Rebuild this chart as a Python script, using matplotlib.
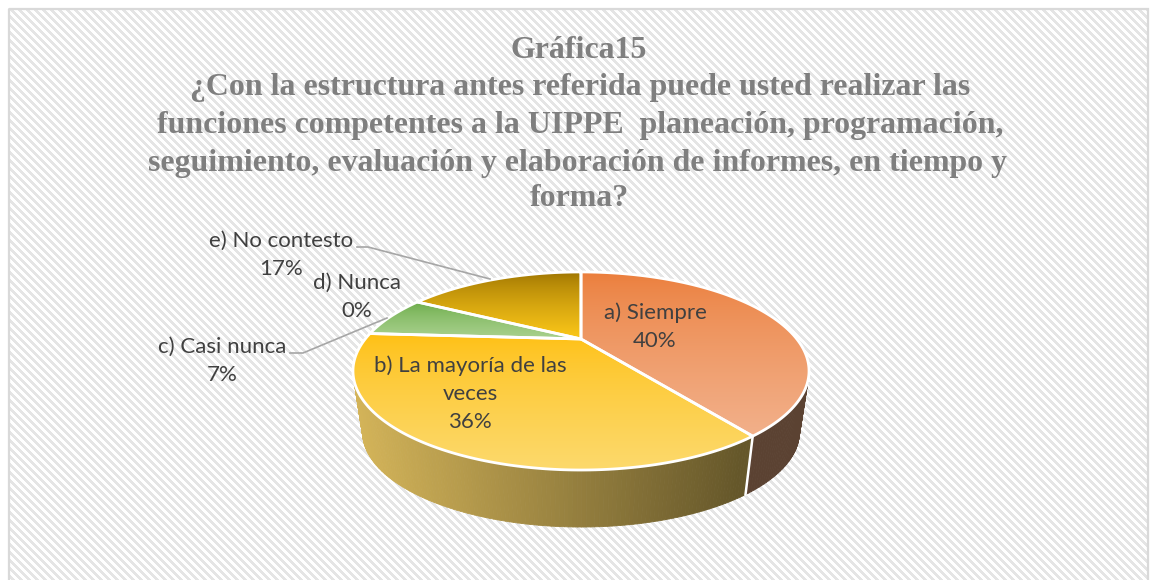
import numpy as np
import matplotlib
matplotlib.use("Agg")
import matplotlib.pyplot as plt
from matplotlib.path import Path
from matplotlib.patches import PathPatch, Rectangle
from matplotlib.collections import PolyCollection

categories = ["a) Siempre", "b) La mayoría de las\nveces", "c) Casi nunca", "d) Nunca", "e) No contesto"]
values = [40, 36, 7, 0, 17]
percent_labels = ["40%", "36%", "7%", "0%", "17%"]
title_lines = ["Gráfica15",
               "¿Con la estructura antes referida puede usted realizar las",
               "funciones competentes a la UIPPE  planeación, programación,",
               "seguimiento, evaluación y elaboración de informes, en tiempo y",
               "forma?"]
title_y = [50, 88, 126, 163, 199]
title_x = [579, 580, 580, 577.5, 579]
top_colors = ["#EB7C38", "#FFBF10", "#69AA46", "#A5A5A5", "#997000"]
bot_colors = ["#F2B08A", "#FCD96C", "#A9D18E", "#C9C9C9", "#FBC719"]

W, H = 1151, 580
fig = plt.figure(figsize=(W / 100, H / 100), dpi=100)
ax = fig.add_axes([0, 0, 1, 1])

# the slices come from the library's pie layout
wedges, _ = ax.pie(values, startangle=90, counterclock=False, frame=True)
spans = [(w.theta1, w.theta2) for w in wedges]
for w in wedges:
    w.remove()
ax.set_aspect("auto")
ax.set_xlim(0, W)
ax.set_ylim(H, 0)
ax.axis("off")

# background
yy, xx = np.mgrid[0:H, 0:W]
stripes = np.where(((xx - yy) % 8) < 4, 0.895, 1.0)
ax.imshow(stripes, cmap="gray", vmin=0, vmax=1, extent=(0, W, H, 0),
          interpolation="nearest", aspect="auto", zorder=0)
ax.add_patch(Rectangle((0, 0), W, 8, fc="white", ec="none", zorder=1))
ax.add_patch(Rectangle((0, 0), 8, H, fc="white", ec="none", zorder=1))
ax.add_patch(Rectangle((1149, 0), 2, H, fc="white", ec="none", zorder=1))
ax.add_patch(Rectangle((9, 9), 1139.5, 580, fc="none", ec="#D9D9D9", lw=1.6, zorder=1))

# perspective disc
CX, CY = 581.0, 339.0
A, B, K = 215.8, 88.7, 0.323
S, D = 0.958, 62.5


def project(theta_deg, scale=1.0, drop=0.0):
    t = np.radians(theta_deg)
    x, y = np.cos(t), np.sin(t)
    w = 1 + K * y
    return CX + scale * A * x / w, CY + drop - scale * B * y / w


def hexrgb(c):
    return np.array(matplotlib.colors.to_rgb(c))


# side wall
wall = [(spans[0], "#5B4232", "#64493A"), (spans[1], "#65572A", "#D6B65A")]
polys, cols = [], []
for (t1, t2), c_right, c_left in wall:
    th = np.linspace(t1, t2, 160)
    x0, y0 = project(th)
    x1, y1 = project(th, S, D)
    for i in range(len(th) - 1):
        polys.append([(x0[i], y0[i]), (x0[i + 1], y0[i + 1]), (x1[i + 1], y1[i + 1]), (x1[i], y1[i])])
        f = np.clip((x1[i] - 355) / (735 - 355), 0, 1)
        cols.append(hexrgb(c_left) * (1 - f) + hexrgb(c_right) * f)
ax.add_collection(PolyCollection(polys, facecolors=cols, edgecolors=cols, linewidths=0.6, zorder=2))

# white seam on the wall
tc = spans[0][0]
x0, y0 = project(tc)
x1, y1 = project(tc, S, D)
ax.plot([x0, x1], [y0, y1], color="white", lw=1.8, zorder=3)

# top faces with vertical gradient
for (t1, t2), ct, cb, v in zip(spans, top_colors, bot_colors, values):
    if v == 0:
        continue
    th = np.linspace(t1, t2, 200)
    px, py = project(th)
    verts = np.column_stack([np.r_[CX, px, CX], np.r_[CY, py, CY]])
    path = Path(verts, closed=True)
    top, bot = verts[:, 1].min(), verts[:, 1].max()
    grad = (np.linspace(0, 1, 256) ** 0.7)[:, None, None]
    img = hexrgb(ct)[None, None, :] * (1 - grad) + hexrgb(cb)[None, None, :] * grad
    im = ax.imshow(img, extent=(verts[:, 0].min(), verts[:, 0].max(), bot, top),
                   aspect="auto", zorder=4, interpolation="bilinear")
    patch = PathPatch(path, fc="none", ec="white", lw=2.0, zorder=5, joinstyle="round")
    ax.add_patch(patch)
    im.set_clip_path(patch)
ax.set_xlim(0, W)
ax.set_ylim(H, 0)

# leader lines
for lx, ly in [([357, 368, 490], [247, 247, 279]), ([290, 303, 387], [353, 353, 318])]:
    ax.plot(lx, ly, color="#A6A6A6", lw=1.2, zorder=6, solid_joinstyle="round")

# title
for s, x, y in zip(title_lines, title_x, title_y):
    ax.text(x, y, s, family="Liberation Serif", weight="bold", color="#7F7F7F",
            fontsize=22.97, ha="center", va="center", zorder=7)

# data labels
label_pos = [(655, 327), (470, 394), (222, 361), (357, 297), (281, 255)]
for cat, pct, (x, y) in zip(categories, percent_labels, label_pos):
    ax.text(x, y, f"{cat}\n{pct}", family="Lato", color="#404040", fontsize=16,
            ha="center", va="center", linespacing=1.5, zorder=7)

fig.savefig("out.png", dpi=100)
